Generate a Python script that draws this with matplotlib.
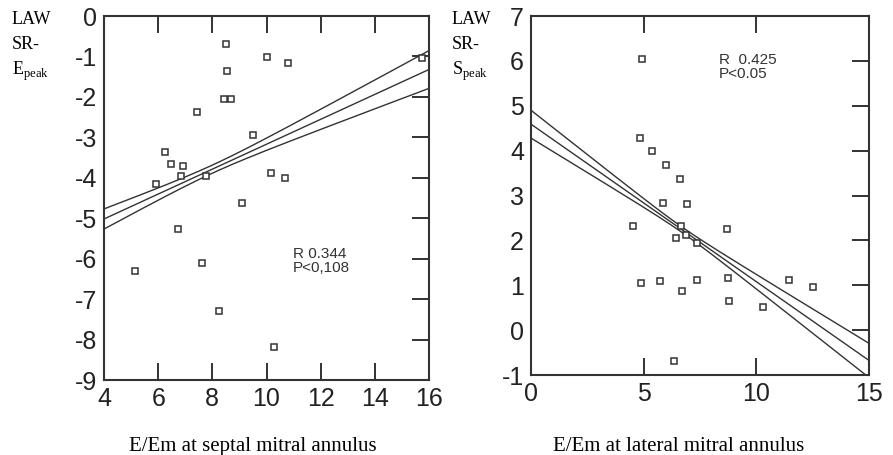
import matplotlib
matplotlib.use("Agg")
import matplotlib.pyplot as plt
import numpy as np

plt.rcParams['axes.unicode_minus'] = False

# septal panel: E/Em vs LAW SR-Epeak
sep_x = [8.52, 8.54, 8.44, 8.68, 10.02, 10.78, 15.76, 7.43, 9.50, 6.24, 6.47, 6.92,
         6.84, 5.91, 7.78, 10.18, 10.67, 9.11, 6.74, 5.13, 7.61, 8.25, 10.28]
sep_y = [-0.70, -1.37, -2.06, -2.05, -1.01, -1.17, -1.04, -2.37, -2.95, -3.37, -3.65, -3.70,
         -3.95, -4.15, -3.96, -3.89, -4.01, -4.62, -5.26, -6.31, -6.11, -7.29, -8.19]
# regression line + band
sep_fit = dict(a=-6.25, b=0.308, x0=8.0, h0=0.10, k=0.057)

# lateral panel: E/Em vs LAW SR-Speak
lat_x = [4.94, 4.85, 5.35, 5.99, 6.61, 5.84, 6.94, 4.51, 6.66, 8.71, 6.45, 6.88,
         7.37, 4.90, 5.74, 6.70, 7.35, 8.76, 8.77, 10.31, 11.46, 12.50, 6.35]
lat_y = [6.05, 4.28, 4.00, 3.67, 3.37, 2.84, 2.81, 2.31, 2.33, 2.25, 2.05, 2.11,
         1.95, 1.05, 1.10, 0.88, 1.11, 1.16, 0.66, 0.51, 1.12, 0.96, -0.68]
lat_fit = dict(a=4.59, b=-0.351, x0=6.7, h0=0.06, k=0.0454)

fig = plt.figure(figsize=(8.93, 4.55), dpi=100)
ax1 = fig.add_axes([0.1165, 0.1648, 0.3639, 0.8000])
ax2 = fig.add_axes([0.5946, 0.1758, 0.3785, 0.7890])


def draw(ax, xs, ys, fit, xlim, ylim, xticks, yticks):
    xl = np.linspace(xlim[0], xlim[1], 200)
    c = fit['a'] + fit['b'] * xl
    h = np.sqrt(fit['h0'] ** 2 + fit['k'] ** 2 * (xl - fit['x0']) ** 2)
    for yy in (c, c + h, c - h):
        ax.plot(xl, yy, color='#333333', lw=1.0)
    ax.plot(xs, ys, ls='none', marker='s', ms=4.5, mfc='white', mec='#333333', mew=1.1)
    ax.set_xlim(xlim)
    ax.set_ylim(ylim)
    ax.set_xticks(xticks)
    ax.set_yticks(yticks)
    ax.tick_params(direction='in', length=12, width=1.3, labelsize=18, pad=5,
                   top=True, bottom=True, right=True, left=False, colors='#222222')
    for t in ax.get_xticklabels() + ax.get_yticklabels():
        t.set_fontfamily('Liberation Sans')
    for s in ax.spines.values():
        s.set_linewidth(1.5)
        s.set_color('#333333')


draw(ax1, sep_x, sep_y, sep_fit, (4, 16), (-9, 0), range(4, 17, 2), range(-9, 1))
draw(ax2, lat_x, lat_y, lat_fit, (0, 15), (-1, 7), [0, 5, 10, 15], range(-1, 8))

ax1.text(10.97, -5.72, "R 0.344\nP<0,108", fontsize=11, family='Liberation Sans',
         va='top', ha='left', color='#333333', linespacing=1.0)
ax2.text(8.33, 6.17, "R  0.425\nP<0.05", fontsize=11, family='Liberation Sans',
         va='top', ha='left', color='#333333', linespacing=1.0)

serif = 'Liberation Serif'
for xf in (12 / 893, 452 / 893):
    fig.text(xf, 1 - 24 / 455, "LAW", family=serif, fontsize=13, va='baseline')
    fig.text(xf, 1 - 49 / 455, "SR-", family=serif, fontsize=13, va='baseline')
fig.text(12 / 893, 1 - 75 / 455, r"E$_\mathregular{peak}$", family=serif, fontsize=13, va='baseline')
fig.text(452 / 893, 1 - 75 / 455, r"S$_\mathregular{peak}$", family=serif, fontsize=13, va='baseline')

fig.text(253 / 893, 4 / 455, "E/Em at septal mitral annulus", family=serif, fontsize=15,
         ha='center', va='baseline')
fig.text(679 / 893, 4 / 455, "E/Em at lateral mitral annulus", family=serif, fontsize=15,
         ha='center', va='baseline')

fig.savefig("out.png", dpi=100)
